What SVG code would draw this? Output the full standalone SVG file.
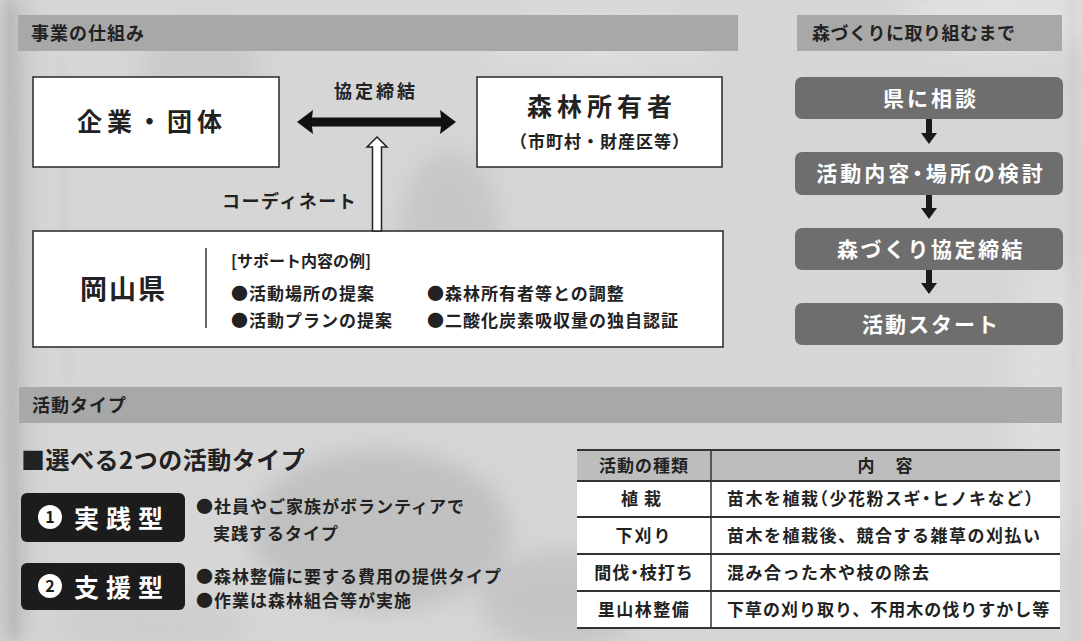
<svg xmlns="http://www.w3.org/2000/svg" width="1082" height="641" viewBox="0 0 1082 641">
<defs>
<filter id="blur" x="-20%" y="-20%" width="140%" height="140%"><feGaussianBlur stdDeviation="12"/></filter>
<filter id="blur2" x="-20%" y="-20%" width="140%" height="140%"><feGaussianBlur stdDeviation="4"/></filter>
<style>
text{font-family:"Noto Sans CJK JP","Liberation Sans",sans-serif;font-weight:bold;fill:#222}
.hdr{fill:#a8a8a8}
.hdrt{font-size:18px;letter-spacing:1px}
.box{fill:#fff;stroke:#333;stroke-width:1.6}
.flow{fill:#6e6e6e}
.flowt{fill:#fff;font-size:21px;text-anchor:middle}
.blk{fill:#1c1c1c}
.body{font-size:17px;letter-spacing:1px}
.tcell{font-size:17px}
.tl{stroke:#333;stroke-width:2}
.tv{stroke:#333;stroke-width:1.5}
.h{font-feature-settings:"halt"}
</style>
</defs>
<g id="background">
<rect width="1082" height="641" fill="#d6d6d6"/>
<g filter="url(#blur)" opacity="0.5">
<rect x="0" y="0" width="25" height="641" fill="#a0a0a0"/>
<ellipse cx="200" cy="70" rx="60" ry="40" fill="#bdbdbd"/>
<ellipse cx="450" cy="230" rx="50" ry="80" fill="#b8b8b8"/>
<ellipse cx="380" cy="530" rx="130" ry="80" fill="#ababab"/>
<ellipse cx="560" cy="600" rx="80" ry="50" fill="#b4b4b4"/>
<ellipse cx="1000" cy="20" rx="100" ry="30" fill="#ececec"/>
<ellipse cx="600" cy="40" rx="120" ry="25" fill="#e6e6e6"/>
<ellipse cx="150" cy="625" rx="100" ry="25" fill="#c4c4c4"/>
<ellipse cx="1050" cy="400" rx="40" ry="150" fill="#e4e4e4"/>
</g>
<g filter="url(#blur2)" opacity="0.3" stroke="#8a8a8a" fill="none">
<path d="M10 0 L14 641" stroke-width="5"/>
<path d="M60 60 L68 380" stroke-width="2"/>
<path d="M1072 0 L1076 641" stroke-width="3"/>
</g>
</g>
<g id="section-mechanism-header">
<rect class="hdr" x="18" y="15" width="720" height="36"/>
<text class="hdrt" x="31" y="40">事業の仕組み</text>
</g>
<g id="section-flow-header">
<rect class="hdr" x="797" y="15" width="265" height="36"/>
<text class="hdrt" x="812" y="40" style="letter-spacing:0.5px">森づくりに取り組むまで</text>
</g>
<g id="node-company">
<rect class="box" x="33" y="77" width="246" height="90"/>
<text x="152" y="131" text-anchor="middle" font-size="25" letter-spacing="5">企業・団体</text>
</g>
<g id="node-owner">
<rect class="box" x="477" y="77" width="245" height="90"/>
<text x="602" y="116" text-anchor="middle" font-size="25" letter-spacing="5">森林所有者</text>
<text x="600" y="148" text-anchor="middle" font-size="17" letter-spacing="1">（市町村・財産区等）</text>
</g>
<g id="node-okayama">
<rect class="box" x="33" y="231" width="690" height="116"/>
<line x1="206" y1="248" x2="206" y2="328" stroke="#333" stroke-width="1.5"/>
<text x="80" y="299" font-size="27" letter-spacing="2">岡山県</text>
<text x="231" y="267" font-size="16">[サポート内容の例]</text>
<text class="body" x="231" y="300" letter-spacing="0.5">●活動場所の提案</text>
<text class="body" x="427" y="300" letter-spacing="0.5">●森林所有者等との調整</text>
<text class="body" x="231" y="327" letter-spacing="0.5">●活動プランの提案</text>
<text class="body" x="427" y="327" letter-spacing="0.5">●二酸化炭素吸収量の独自認証</text>
</g>
<g id="connectors">
<path d="M297 122 L313 110 L312 117.5 L441 117.5 L440 110 L456 122 L440 134 L441 126.5 L312 126.5 L313 134 Z" fill="#111"/>
<text x="376" y="98" text-anchor="middle" font-size="18" letter-spacing="3">協定締結</text>
<path d="M377 137 L387 147 L381.5 147 L381.5 231 L372.5 231 L372.5 147 L367 147 Z" fill="#fff" stroke="#222" stroke-width="1.5"/>
<text x="222" y="208" font-size="18" letter-spacing="1.5">コーディネート</text>
<g fill="#1a1a1a">
<path d="M926 119 L932 119 L932 133 L937 133 L929 144 L921 133 L926 133 Z"/>
<path d="M926 195 L932 195 L932 208 L937 208 L929 219 L921 208 L926 208 Z"/>
<path d="M926 270 L932 270 L932 283 L937 283 L929 294 L921 283 L926 283 Z"/>
</g>
</g>
<g id="flow-1">
<rect class="flow" x="795" y="77" width="268" height="42" rx="7"/>
<text class="flowt" x="931" y="106" letter-spacing="3">県に相談</text>
</g>
<g id="flow-2">
<rect class="flow" x="795" y="152" width="268" height="43" rx="7"/>
<text class="flowt" x="931" y="181" letter-spacing="3">活動内容<tspan class="h">・</tspan>場所の検討</text>
</g>
<g id="flow-3">
<rect class="flow" x="795" y="228" width="268" height="42" rx="7"/>
<text class="flowt" x="931" y="257" letter-spacing="2.5">森づくり協定締結</text>
</g>
<g id="flow-4">
<rect class="flow" x="795" y="303" width="268" height="42" rx="7"/>
<text class="flowt" x="931" y="332" letter-spacing="2">活動スタート</text>
</g>
<g id="section-type-header">
<rect class="hdr" x="19" y="387" width="1043" height="36"/>
<text class="hdrt" x="32" y="412">活動タイプ</text>
</g>
<g id="types-title">
<text x="21" y="469" font-size="24" letter-spacing="0.5">■選べる2つの活動タイプ</text>
</g>
<g id="type-1">
<rect class="blk" x="21" y="493" width="164" height="49" rx="6"/>
<circle cx="50" cy="517" r="12" fill="#fff"/>
<text x="50" y="523" text-anchor="middle" font-size="16" style="fill:#1c1c1c">1</text>
<text x="74" y="528" font-size="25" letter-spacing="7" style="fill:#fff">実践型</text>
<text class="body" x="196" y="513" letter-spacing="0.5">●社員やご家族がボランティアで</text>
<text class="body" x="213" y="540" letter-spacing="0.5">実践するタイプ</text>
</g>
<g id="type-2">
<rect class="blk" x="21" y="563" width="164" height="47" rx="6"/>
<circle cx="50" cy="586" r="12" fill="#fff"/>
<text x="50" y="592" text-anchor="middle" font-size="16" style="fill:#1c1c1c">2</text>
<text x="74" y="597" font-size="25" letter-spacing="7" style="fill:#fff">支援型</text>
<text class="body" x="196" y="583" letter-spacing="0.5">●森林整備に要する費用の提供タイプ</text>
<text class="body" x="196" y="607" letter-spacing="0.5">●作業は森林組合等が実施</text>
</g>
<g id="activity-table">
<rect x="577" y="450" width="483" height="31" fill="#bdbdbd"/>
<rect x="577" y="481" width="483" height="147" fill="#fff"/>
<line class="tl" x1="577" y1="450" x2="1060" y2="450"/>
<line class="tl" x1="577" y1="481" x2="1060" y2="481"/>
<line class="tl" x1="577" y1="517" x2="1060" y2="517"/>
<line class="tl" x1="577" y1="554" x2="1060" y2="554"/>
<line class="tl" x1="577" y1="591" x2="1060" y2="591"/>
<line class="tl" x1="577" y1="628" x2="1060" y2="628"/>
<line class="tv" x1="711" y1="450" x2="711" y2="628"/>
<text class="tcell" x="644" y="472" text-anchor="middle" letter-spacing="1">活動の種類</text>
<text class="tcell" x="885" y="472" text-anchor="middle" xml:space="preserve">内　 容</text>
<text class="tcell" x="644" y="505" text-anchor="middle" letter-spacing="6">植栽</text>
<text class="tcell" x="644" y="542" text-anchor="middle" letter-spacing="2">下刈り</text>
<text class="tcell" x="644" y="579" text-anchor="middle" letter-spacing="1">間伐<tspan class="h">・</tspan>枝打ち</text>
<text class="tcell" x="644" y="616" text-anchor="middle" letter-spacing="1.5">里山林整備</text>
<text class="tcell" x="727" y="505" letter-spacing="1.5">苗木を植栽<tspan class="h">（</tspan>少花粉スギ<tspan class="h">・</tspan>ヒノキなど<tspan class="h">）</tspan></text>
<text class="tcell" x="727" y="542" letter-spacing="1.5">苗木を植栽後、競合する雑草の刈払い</text>
<text class="tcell" x="727" y="579" letter-spacing="1.5">混み合った木や枝の除去</text>
<text class="tcell" x="727" y="616" letter-spacing="1">下草の刈り取り、不用木の伐りすかし等</text>
</g>
</svg>
